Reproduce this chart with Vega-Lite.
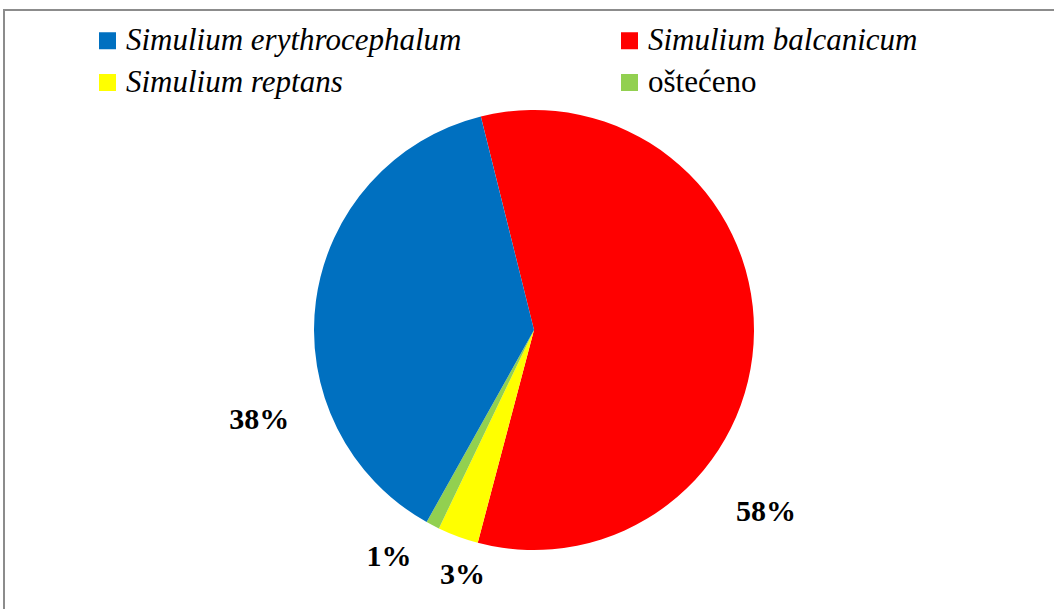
{
  "$schema": "https://vega.github.io/schema/vega-lite/v6.json",
  "width": 1060,
  "height": 640,
  "padding": {"left": 4, "top": 10, "right": 0, "bottom": 0},
  "autosize": {"type": "none"},
  "background": "white",
  "data": {"values": [
    {"species": "Simulium balcanicum", "share": 58, "label": "58%", "order": 1},
    {"species": "Simulium reptans", "share": 3, "label": "3%", "order": 2},
    {"species": "oštećeno", "share": 1, "label": "1%", "order": 3},
    {"species": "Simulium erythrocephalum", "share": 38, "label": "38%", "order": 4}
  ]},
  "layer": [
    {
      "data": {"values": [{"frame": 1}]},
      "mark": {"type": "rect", "fill": null, "fillOpacity": 0, "stroke": "#8c8c8c", "strokeWidth": 2},
      "encoding": {}
    },
    {
      "mark": {"type": "arc", "outerRadius": 220},
      "encoding": {
        "theta": {"field": "share", "type": "quantitative", "stack": true, "scale": {"range": [-0.244, 6.039]}},
        "order": {"field": "order", "type": "quantitative"},
        "color": {
          "field": "species", "type": "nominal",
          "scale": {
            "domain": ["Simulium erythrocephalum", "Simulium balcanicum", "Simulium reptans", "oštećeno"],
            "range": ["#0070C0", "#FF0000", "#FFFF00", "#92D050"]
          },
          "legend": {
            "title": null,
            "orient": "none",
            "legendX": 88,
            "legendY": 15,
            "direction": "horizontal",
            "columns": 2,
            "columnPadding": 152,
            "rowPadding": 10,
            "symbolType": "square",
            "symbolSize": 289,
            "symbolStrokeWidth": 0,
            "symbolOpacity": 1,
            "labelFont": "Liberation Serif",
            "labelFontSize": 31,
            "labelColor": "black",
            "labelOffset": 3,
            "labelLimit": 600,
            "encode": {
              "labels": {"update": {
                "font": {"value": "Liberation Serif"},
                "fontSize": {"value": 31},
                "fontStyle": {"signal": "datum.value === 'oštećeno' ? 'normal' : 'italic'"}
              }}
            }
          }
        }
      }
    },
    {
      "mark": {"type": "text", "radius": 262, "dx": -15, "dy": 125, "font": "Liberation Serif", "fontSize": 30, "fontWeight": "bold", "color": "black"},
      "encoding": {
        "theta": {"field": "share", "type": "quantitative", "stack": true, "scale": {"range": [-0.244, 6.039]}},
        "order": {"field": "order", "type": "quantitative"},
        "text": {"condition": {"test": "datum.label === '38%'", "field": "label"}, "value": ""}
      }
    },
    {
      "mark": {"type": "text", "radius": 262, "dx": -30, "dy": 180, "font": "Liberation Serif", "fontSize": 30, "fontWeight": "bold", "color": "black"},
      "encoding": {
        "theta": {"field": "share", "type": "quantitative", "stack": true, "scale": {"range": [-0.244, 6.039]}},
        "order": {"field": "order", "type": "quantitative"},
        "text": {"condition": {"test": "datum.label === '58%'", "field": "label"}, "value": ""}
      }
    },
    {
      "mark": {"type": "text", "radius": 250, "dx": 15, "dy": 10, "font": "Liberation Serif", "fontSize": 30, "fontWeight": "bold", "color": "black"},
      "encoding": {
        "theta": {"field": "share", "type": "quantitative", "stack": true, "scale": {"range": [-0.244, 6.039]}},
        "order": {"field": "order", "type": "quantitative"},
        "text": {"condition": {"test": "datum.label === '3%'", "field": "label"}, "value": ""}
      }
    },
    {
      "mark": {"type": "text", "radius": 250, "dx": -30, "dy": 5, "font": "Liberation Serif", "fontSize": 30, "fontWeight": "bold", "color": "black"},
      "encoding": {
        "theta": {"field": "share", "type": "quantitative", "stack": true, "scale": {"range": [-0.244, 6.039]}},
        "order": {"field": "order", "type": "quantitative"},
        "text": {"condition": {"test": "datum.label === '1%'", "field": "label"}, "value": ""}
      }
    }
  ]
}
